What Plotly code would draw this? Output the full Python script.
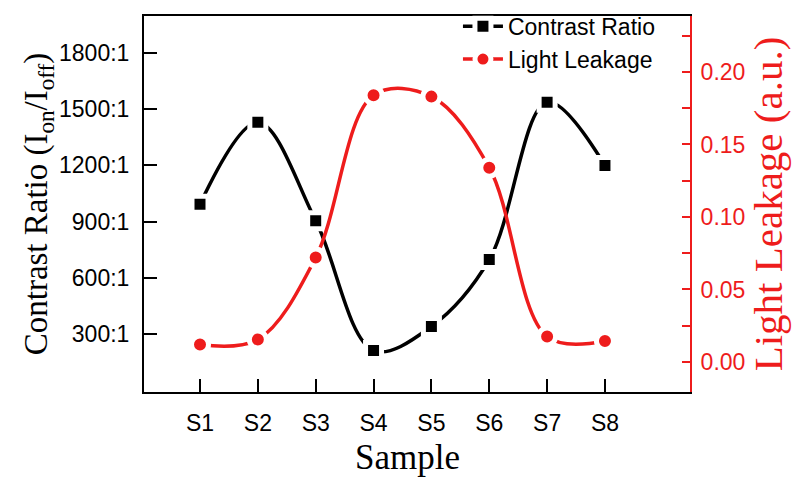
import plotly.graph_objects as go

samples = ["S1", "S2", "S3", "S4", "S5", "S6", "S7", "S8"]
x_pos = [1, 2, 3, 4, 5, 6, 7, 8]
contrast_ratio = [993, 1430, 905, 212, 340, 697, 1538, 1200]
light_leakage = [0.012, 0.0155, 0.072, 0.184, 0.183, 0.134, 0.0175, 0.0145]
left_ticks = [300, 600, 900, 1200, 1500, 1800]
left_labels = ["300:1", "600:1", "900:1", "1200:1", "1500:1", "1800:1"]

RED = "#ee1c1c"
SANS = "Liberation Sans, Arial, sans-serif"
SERIF = "Liberation Serif, Times New Roman, serif"

fig = go.Figure()
fig.add_trace(go.Scatter(
    x=x_pos, y=contrast_ratio, name="Contrast Ratio", mode="lines+markers",
    line=dict(color="black", width=3.5, shape="spline", smoothing=1.0),
    marker=dict(symbol="square", size=16, color="black", line=dict(color="white", width=5)),
    legendgroup="a", yaxis="y"))
fig.add_trace(go.Scatter(
    x=x_pos, y=light_leakage, name="Light Leakage", mode="lines+markers",
    line=dict(color=RED, width=3.5, shape="spline", smoothing=1.0),
    marker=dict(symbol="circle", size=17, color=RED, line=dict(color="white", width=5)),
    legendgroup="b", yaxis="y2"))

fig.update_layout(
    width=793, height=478,
    margin=dict(l=144, r=103, t=16, b=86, autoexpand=False),
    paper_bgcolor="white", plot_bgcolor="white",
    font=dict(family=SANS, size=23, color="black"),
    xaxis=dict(
        range=[0.032, 9.47], tickmode="array", tickvals=x_pos, ticktext=samples,
        showline=True, linecolor="black", linewidth=2, mirror=True,
        ticks="inside", ticklen=13, tickwidth=2, tickcolor="black",
        showgrid=False, zeroline=False, ticklabelstandoff=9,
        tickfont=dict(family=SANS, size=23)),
    yaxis=dict(
        range=[-10, 1998], tickmode="array", tickvals=left_ticks, ticktext=left_labels,
        showline=True, linecolor="black", linewidth=2,
        ticks="inside", ticklen=13, tickwidth=2, tickcolor="black",
        showgrid=False, zeroline=False, ticklabelstandoff=8,
        tickfont=dict(family=SANS, size=23),
        title=dict(text="Contrast Ratio (I<sub>on</sub>/I<sub>off</sub>)",
                   font=dict(family=SERIF, size=33), standoff=0)),
    yaxis2=dict(
        overlaying="y", side="right", range=[-0.0207, 0.2386],
        tickvals=[0, 0.05, 0.10, 0.15, 0.20], tickformat=".2f",
        showline=True, linecolor=RED, linewidth=2,
        ticks="inside", ticklen=8, tickwidth=2, tickcolor=RED,
        minor=dict(dtick=0.025, ticks="inside", ticklen=8, tickwidth=2, tickcolor=RED, tick0=0),
        showgrid=False, zeroline=False, ticklabelstandoff=4,
        tickfont=dict(family=SANS, size=23, color=RED),
        title=dict(text="Light Leakage (a.u.)", font=dict(family=SERIF, size=41, color=RED), standoff=4)),
    legend=dict(x=0.575, y=1.03, xanchor="left", yanchor="top", bgcolor="rgba(0,0,0,0)",
                font=dict(family=SANS, size=23), borderwidth=0, itemwidth=40,
                tracegroupgap=0),
    annotations=[dict(text="Sample", xref="paper", yref="paper", x=0.4817, y=-0.173,
                      xanchor="center", yanchor="middle", showarrow=False,
                      font=dict(family=SERIF, size=35, color="black"))],
)

fig.write_html("out.html")
